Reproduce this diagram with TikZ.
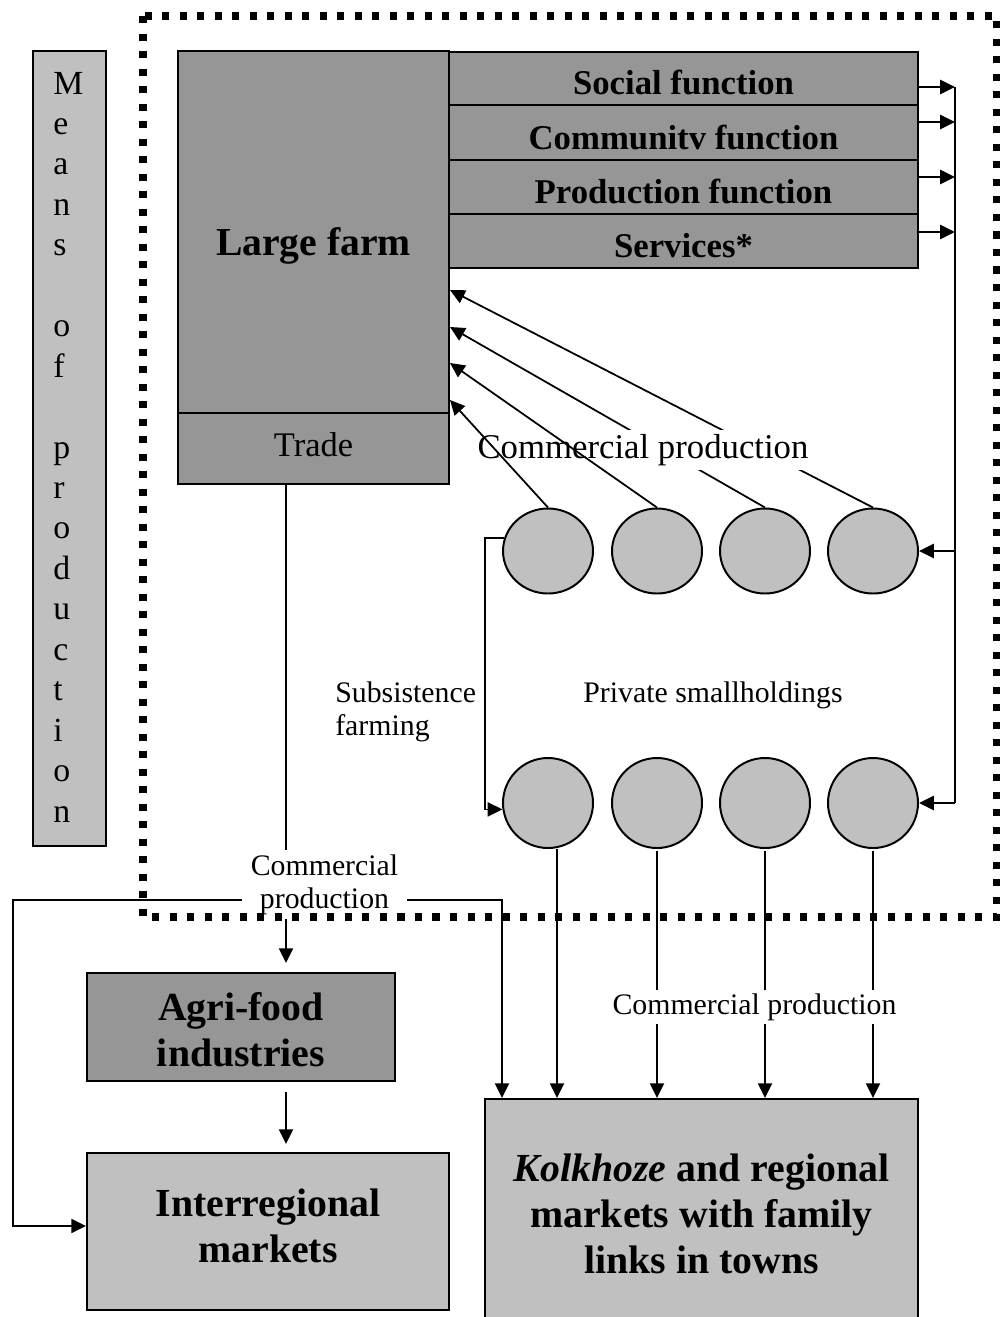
\documentclass[tikz,border=0pt]{standalone}
\usepackage{fontspec}
\setmainfont{Liberation Serif}
\usetikzlibrary{arrows.meta,fit,shapes.geometric}

% one drawing unit = 0.025cm
\newdimen\pxu
\pxu=0.025cm
\newcommand\fsz[2]{\fontsize{#1}{#2}\selectfont}

\definecolor{boxdark}{RGB}{150,150,150}
\definecolor{boxlight}{RGB}{192,192,192}

\begin{document}
\begin{tikzpicture}[x=0.025cm, y=-0.025cm,
  box/.style={draw=black, line width=1.4pt, inner sep=0pt},
  darkbox/.style={box, fill=boxdark},
  lightbox/.style={box, fill=boxlight},
  holding/.style={ellipse, draw=black, line width=1.4pt, fill=boxlight, inner sep=0pt, minimum width=90\pxu},
  link/.style={line width=1.25pt},
  arr/.style={link, -{Triangle[length=10.5pt,width=10pt]}},
  rowlabel/.style={anchor=base, inner sep=0pt, font={\fsz{24.7}{29}\bfseries}},
  bigbold/.style={align=center, inner sep=0pt, font={\fsz{28.3}{32.7}\bfseries}},
  smalltext/.style={inner sep=0pt, font={\fsz{21.2}{23.5}}},
  fence/.style={line width=5pt, dash pattern=on 5pt off 7.45pt}
]
\useasboundingbox (0,0) rectangle (1000,1317);
\clip (0,0) rectangle (1000,1317);

% Means of production column
\node[lightbox, fit={(33,51)(106,846)}] (means) {};
\foreach \ch [count=\i from 0] in {M,e,a,n,s,,o,f,,p,r,o,d,u,c,t,i,o,n}
  \node[anchor=base west, inner sep=0pt, font={\fsz{24}{28}}] (mp\i) at (53,94+40.45*\i) {\ch};

% Large farm with its trade section
\node[darkbox, fit={(178,51)(449,413)}] (farm) {};
\node[darkbox, fit={(178,413)(449,484)}] (trade) {};
\node[anchor=base, inner sep=0pt, font={\fsz{28.2}{32}\bfseries}] (farmlabel) at (313.5,255) {Large farm};
\node[anchor=base, inner sep=0pt, font={\fsz{24.5}{29}}] (tradelabel) at (313.5,456) {Trade};

% Functions of the large farm
\node[darkbox, fit={(449,52)(918,105)}] (social) {};
\node[darkbox, fit={(449,105)(918,160)}] (community) {};
\node[darkbox, fit={(449,160)(918,214)}] (production) {};
\node[darkbox, fit={(449,214)(918,268)}] (services) {};
\node[rowlabel] (sociallabel) at (683.5,94) {Social function};
\node[rowlabel] (communitylabel) at (683.5,149) {Communitv function};
\node[rowlabel] (productionlabel) at (683.5,203) {Production function};
\node[rowlabel] (serviceslabel) at (683.5,257) {Services*};

% Private smallholdings
\foreach \x [count=\i] in {548,657,765,873} {
  \node[holding, minimum height=85\pxu] (t\i) at (\x,551) {};
  \node[holding, minimum height=90\pxu] (b\i) at (\x,803) {};
}

% Feedback from the functions to the smallholdings
\coordinate (feedtop) at (955,87);
\draw[arr] (social.east |- feedtop) -- (feedtop);
\draw[arr] (community.east |- 0,122) -- (feedtop |- 0,122);
\draw[arr] (production.east |- 0,177) -- (feedtop |- 0,177);
\draw[arr] (services.east |- 0,232) -- (feedtop |- 0,232);
\draw[link] (feedtop) -- (feedtop |- b4.east);
\draw[arr] (feedtop |- t4.east) -- (t4.east);
\draw[arr] (feedtop |- b4.east) -- (b4.east);

% Commercial production delivered to the large farm
\draw[arr] (t3.north) -- (farm.east |- 0,327);
\draw[arr] (t4.north) -- (farm.east |- 0,290);
\node[fill=white, inner sep=3pt, anchor=base, font={\fsz{24.7}{29}}] (commtop) at (643,458) {Commercial production};
\draw[arr] (t1.north) -- (farm.east |- 0,400);
\draw[arr] (t2.north) -- (farm.east |- 0,363);

% Subsistence loop
\draw[arr] (t1.163) -| (485,700) |- (b1.188);
\node[smalltext, anchor=west, align=left] (subsist) at (335,711.5) {Subsistence\\farming};
\node[smalltext, anchor=base] (private) at (713,702) {Private smallholdings};

% Downstream boxes
\node[darkbox, fit={(87,973)(395,1081)}] (agri) {};
\node[bigbold] (agrilabel) at (241,1029.5) {Agri-food\\industries};
\node[lightbox, fit={(87,1153)(449,1310)}] (inter) {};
\node[bigbold] (interlabel) at (268,1225.5) {Interregional\\markets};
\node[lightbox, fit={(485,1099)(918,1340)}] (kolk) {};
\node[bigbold] (kolklabel) at (701.5,1213.5) {\textit{Kolkhoze} and regional\\markets with family\\links in towns};

% Output of the large farm
\coordinate (split) at (286,900);
\draw[link] (trade.south -| split) -- (split);
\draw[arr, shorten >=9\pxu] (split) -- (agri.north -| split);
\draw[arr] (split) -| (13,1226) -- (inter.west |- 0,1226);
\draw[arr] (split) -| ([xshift=18\pxu]kolk.north west);
\node[smalltext, align=center, fill=white, inner xsep=6pt, inner ysep=3pt] (commleft) at (324.5,884.5) {Commercial\\production};
\draw[arr, shorten <=10\pxu, shorten >=8\pxu] (agri.south -| split) -- (inter.north -| split);

% Output of the smallholdings
\draw[arr] ([xshift=9\pxu]b1.south) -- ([xshift=9\pxu]b1.south |- kolk.north);
\foreach \i in {2,3,4}
  \draw[arr, shorten <=2\pxu] (b\i.south) -- (b\i.south |- kolk.north);
\node[smalltext, fill=white, inner xsep=3pt, inner ysep=2.5pt, anchor=base] (commright) at (754.5,1014) {Commercial production};

% Boundary of the farm system
\draw[fence] (143,16) rectangle (997,917);
\end{tikzpicture}
\end{document}
